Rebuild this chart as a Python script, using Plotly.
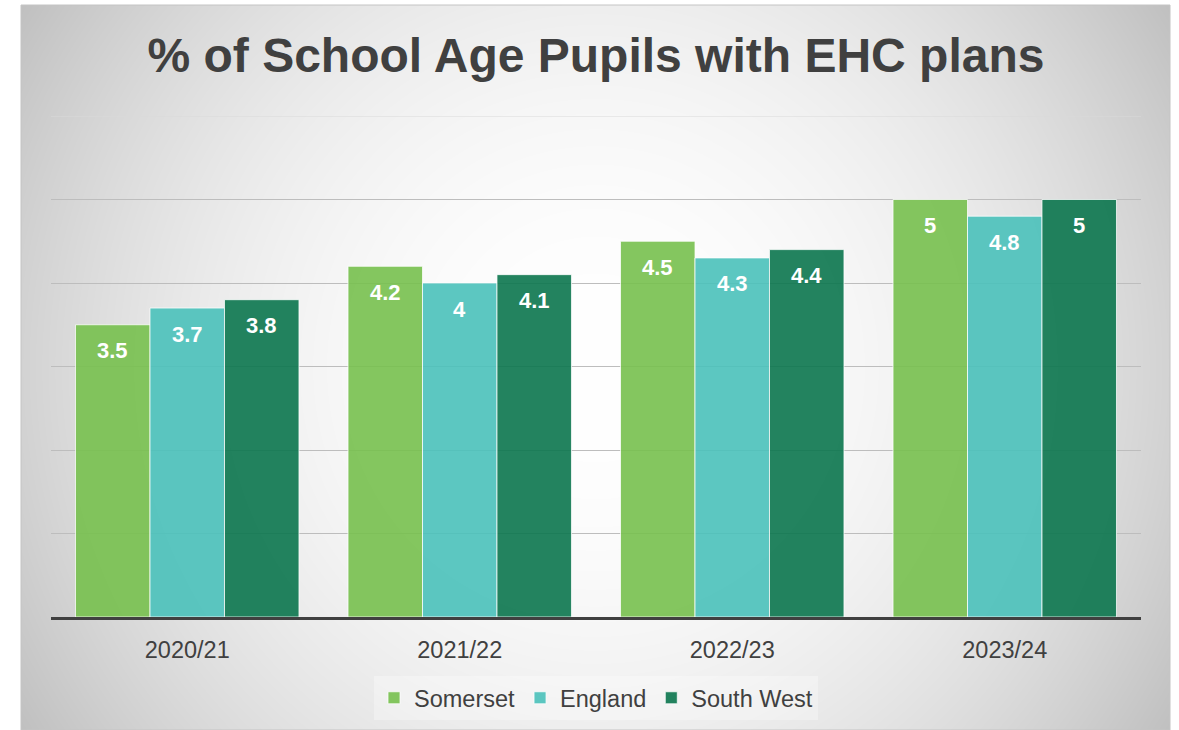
import base64, struct, zlib
import numpy as np
import plotly.graph_objects as go

categories = ["2020/21", "2021/22", "2022/23", "2023/24"]
somerset = [3.5, 4.2, 4.5, 5]
england = [3.7, 4.0, 4.3, 4.8]
south_west = [3.8, 4.1, 4.4, 5]
series_names = ["Somerset", "England", "South West"]
series_values = [somerset, england, south_west]
series_colors = ["rgba(119,192,78,0.9)", "rgba(74,193,186,0.9)", "rgba(11,117,78,0.9)"]

W, H = 1179, 730
L, R, T, B = 51, 38, 116, 113
BOX = (21, 5, 1170, 730)  # x0, y0, x1, y1 in pixels

# ---- radial gradient background as PNG ----
def make_png(arr):
    h, w = arr.shape
    raw = b"".join(b"\x00" + arr[i].tobytes() for i in range(h))
    def chunk(tag, data):
        c = tag + data
        return struct.pack(">I", len(data)) + c + struct.pack(">I", zlib.crc32(c) & 0xffffffff)
    return (b"\x89PNG\r\n\x1a\n" + chunk(b"IHDR", struct.pack(">IIBBBBB", w, h, 8, 0, 0, 0, 0))
            + chunk(b"IDAT", zlib.compress(raw, 9)) + chunk(b"IEND", b""))

bw, bh = BOX[2] - BOX[0], BOX[3] - BOX[1]
yy, xx = np.mgrid[0:bh, 0:bw].astype(float)
cx, cy = bw / 2, bh / 2
d = np.sqrt((xx - cx) ** 2 + (yy - cy) ** 2) / np.sqrt(cx ** 2 + cy ** 2)
g = 255 - 63 * np.clip(d, 0, 1) ** 2.1
img = np.clip(g, 0, 255).astype(np.uint8)
uri = "data:image/png;base64," + base64.b64encode(make_png(img)).decode()

pw, ph = W - L - R, H - T - B
def px2paper_x(x): return (x - L) / pw
def px2paper_y(y): return (H - B - y) / ph

fig = go.Figure()
for name, vals, col in zip(series_names, series_values, series_colors):
    fig.add_trace(go.Bar(
        x=categories, y=vals, name=name,
        marker=dict(color=col, line=dict(color="rgba(255,255,255,0.75)", width=1)),
        hoverinfo="skip",
    ))

bargap = 0.18
bar_px = pw / len(categories) * (1 - bargap) / 3
annotations = []
for k, vals in enumerate(series_values):
    for c, v in zip(categories, vals):
        annotations.append(dict(
            x=c, y=v, xref="x", yref="y", text=f"{v:g}", showarrow=False,
            xshift=(k - 1) * bar_px, yshift=-26,
            font=dict(family="Liberation Sans, Arial", size=22, color="white", weight="bold"),
        ))

fig.update_layout(
    width=W, height=H, autosize=False,
    margin=dict(l=L, r=R, t=T, b=B),
    paper_bgcolor="white", plot_bgcolor="rgba(0,0,0,0)",
    barmode="group", bargap=bargap, bargroupgap=0,
    font=dict(family="Liberation Sans, Arial", color="#404040"),
    title=dict(text="<b>% of School Age Pupils with EHC plans</b>", x=0.5055, xref="container",
               xanchor="center", y=1 - 55 / H, yref="container", yanchor="middle",
               font=dict(size=48, color="#404040", family="Liberation Sans, Arial")),
    xaxis=dict(showline=True, linewidth=3, linecolor="#404040", showgrid=False,
               ticks="outside", ticklen=10, tickcolor="rgba(0,0,0,0)",
               tickfont=dict(size=23.5, color="#404040")),
    yaxis=dict(range=[0, 6], tickvals=[1, 2, 3, 4, 5], showticklabels=False,
               gridcolor="#bdbdbd", gridwidth=1, zeroline=False, showline=False),
    legend=dict(orientation="h", x=0.5, xanchor="center", y=1 - 698 / H, yref="container",
                yanchor="middle", bgcolor="rgba(255,255,255,0.3)",
                font=dict(size=23.5, color="#404040")),
    images=[dict(source=uri, xref="paper", yref="paper",
                 x=px2paper_x(BOX[0]), y=px2paper_y(BOX[1]),
                 sizex=(BOX[2] - BOX[0]) / pw, sizey=(BOX[3] - BOX[1]) / ph,
                 sizing="stretch", layer="below", xanchor="left", yanchor="top")],
    shapes=[
        dict(type="line", xref="paper", yref="y", x0=0, x1=1, y0=6, y1=6,
             line=dict(color="#dadada", width=1), layer="below"),
        dict(type="rect", xref="paper", yref="paper",
             x0=px2paper_x(BOX[0]), x1=px2paper_x(BOX[2]),
             y0=px2paper_y(BOX[3]), y1=px2paper_y(BOX[1]),
             line=dict(color="#c4c4c4", width=1), layer="below"),
    ],
    annotations=annotations,
    showlegend=True,
)

fig.write_html("out.html")
